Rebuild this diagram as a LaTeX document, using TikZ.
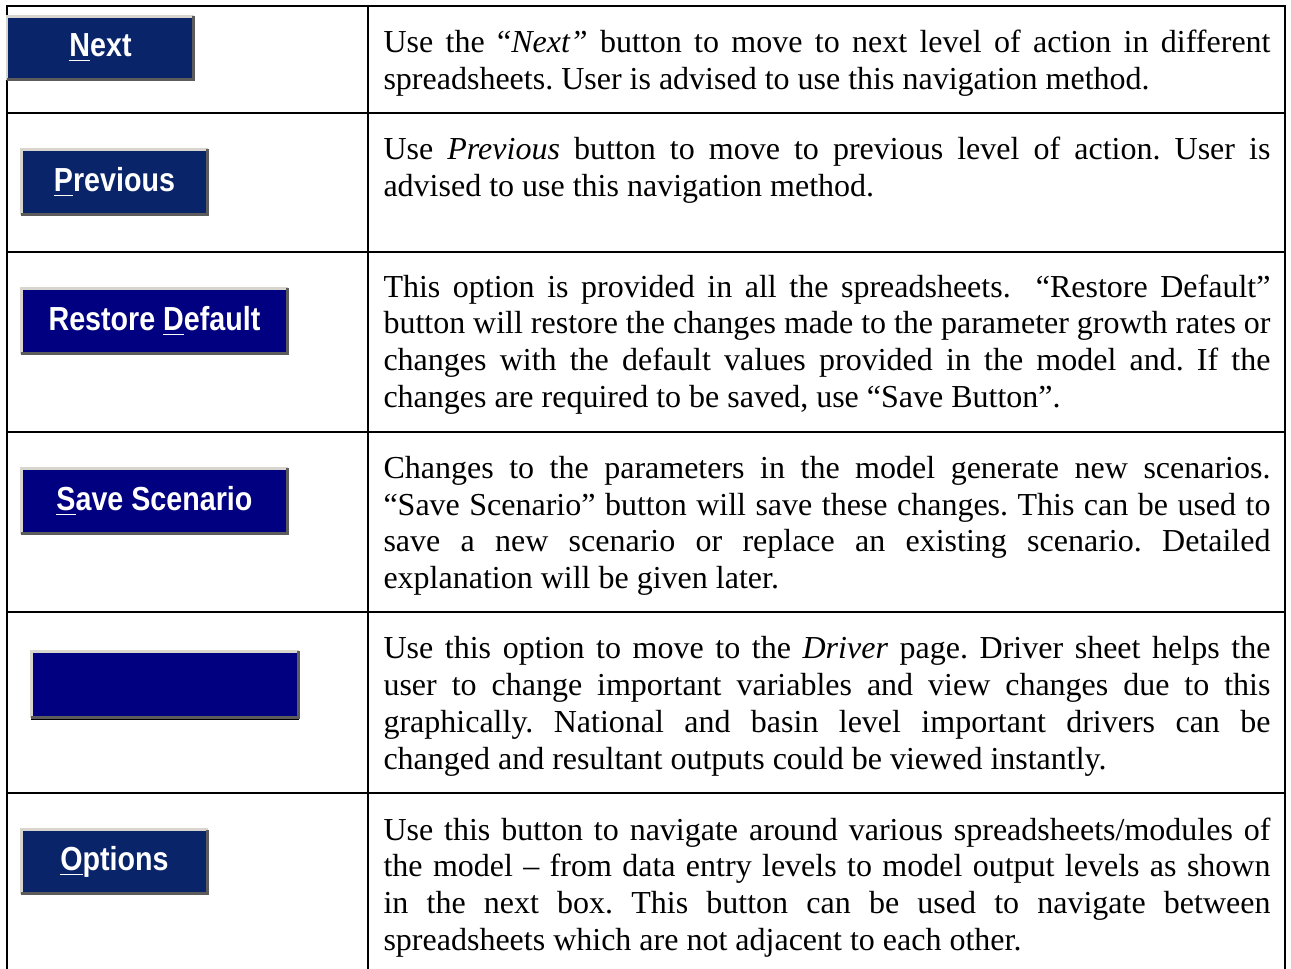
\documentclass[tikz,border=0pt]{standalone}
\usepackage{fontspec}
\setmainfont{Liberation Serif}
\newfontfamily\btnfont{Liberation Sans}
\definecolor{navyA}{HTML}{0A246A}
\definecolor{navyB}{HTML}{000080}
\definecolor{bevlight}{HTML}{D8D5CE}
\definecolor{bevdark}{HTML}{5C5C5C}
\tikzset{
  gridline/.style={line width=0.85pt, black},
  btn/.style={rectangle, inner sep=0pt, text=white,
    font=\btnfont\bfseries\fontsize{12.5}{14}\selectfont},
  btnlight/.style={bevlight, line width=0.8pt},
  btndark/.style={bevdark, line width=1.1pt},
  desc/.style={anchor=base west, inner sep=0pt, text width=332.6pt, align=justify,
    font=\fontsize{12}{13.8}\selectfont},
}
\newcommand{\btxt}[1]{\scalebox{0.86}[1]{\raisebox{-1pt}{#1}}}
\newcommand{\ul}[1]{\underline{#1}}
\begin{document}
\frenchspacing
\hyphenpenalty=10000
\exhyphenpenalty=10000
\begin{tikzpicture}[x=0.375pt,y=-0.375pt]
\useasboundingbox (0,0) rectangle (1291,969);
% table grid
\draw[gridline] (7,969) -- (7,6) -- (1285,6) -- (1285,969);
\draw[gridline] (367.7,6) -- (367.7,969);
\foreach \yy in {112.7,251.7,431.7,612.3,792.7}
  \draw[gridline] (7,\yy) -- (1285,\yy);

% buttons
\node[btn, fill=navyA, minimum width=69.4pt, minimum height=23.25pt] (bnext) at (100.5,48) {\btxt{\ul{N}ext}};
\node[btn, fill=navyA, minimum width=69.4pt, minimum height=24pt] (bprev) at (114.5,182) {\btxt{\ul{P}revious}};
\node[btn, fill=navyB, minimum width=99.4pt, minimum height=24pt] (brest) at (154.5,321) {\btxt{Restore \ul{D}efault}};
\node[btn, fill=navyB, minimum width=99.4pt, minimum height=24pt] (bsave) at (154.5,501) {\btxt{\ul{S}ave Scenario}};
\node[btn, fill=navyB, minimum width=99.75pt, minimum height=24.4pt] (bdriv) at (165,684.5) {};
\node[btn, fill=navyA, minimum width=69.4pt, minimum height=23.6pt] (bopt) at (114.5,861.5) {\btxt{\ul{O}ptions}};
\foreach \b in {bnext,bprev,brest,bsave,bdriv,bopt}{
  \draw[btnlight] (\b.south west) -- (\b.north west) -- (\b.north east);
  \draw[btndark] (\b.south west) -- (\b.south east) -- (\b.north east);
}
\draw[black, line width=0.5pt] ([yshift=-0.6pt]bdriv.south west) -- ([yshift=-0.6pt]bdriv.south east);

% descriptions
\node[desc] (dnext) at (383,52.5) {Use the “\textit{Next”} button to move to next level of action in different\linebreak
spreadsheets. User is advised to use this navigation method.};
\node[desc] (dprev) at (383,159.2) {Use \textit{Previous} button to move to previous level of action. User is\linebreak
advised to use this navigation method.};
\node[desc] (drest) at (383,297) {This option is provided in all the spreadsheets.\ \ “Restore Default”\linebreak
button will restore the changes made to the parameter growth rates or\linebreak
changes with the default values provided in the model and. If the\linebreak
changes are required to be saved, use “Save Button”.};
\node[desc] (dsave) at (383,478.3) {Changes to the parameters in the model generate new scenarios.\linebreak
“Save Scenario” button will save these changes. This can be used to\linebreak
save a new scenario or replace an existing scenario. Detailed\linebreak
explanation will be given later.};
\node[desc] (ddriv) at (383,658.8) {Use this option to move to the \textit{Driver} page. Driver sheet helps the\linebreak
user to change important variables and view changes due to this\linebreak
graphically. National and basin level important drivers can be\linebreak
changed and resultant outputs could be viewed instantly.};
\node[desc] (dopt) at (383,840) {Use this button to navigate around various spreadsheets/modules of\linebreak
the model – from data entry levels to model output levels as shown\linebreak
in the next box. This button can be used to navigate between\linebreak
spreadsheets which are not adjacent to each other.};
\end{tikzpicture}
\end{document}
